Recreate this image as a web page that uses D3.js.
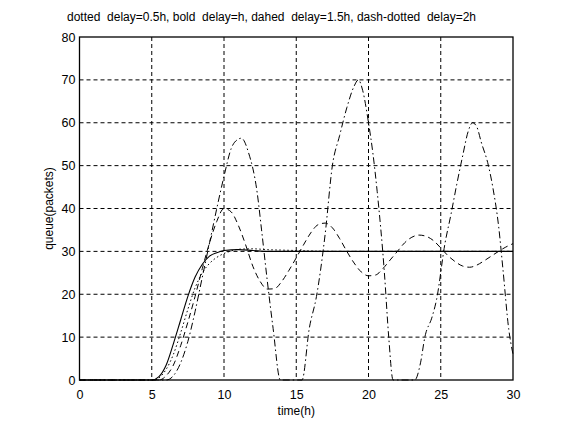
<!DOCTYPE html>
<html><head><meta charset="utf-8">
<script src="https://cdn.jsdelivr.net/npm/d3@7"></script>
<style>body{margin:0;background:#fff}svg{display:block}text{font-family:"Liberation Sans",Arial,sans-serif;fill:#000}</style>
</head><body>
<svg id="c" width="563" height="426"></svg>
<script>
const titleText = "dotted  delay=0.5h, bold  delay=h, dahed  delay=1.5h, dash-dotted  delay=2h";
const xLabel = "time(h)";
const yLabel = "queue(packets)";
const xTicks = [0,5,10,15,20,25,30];
const yTicks = [0,10,20,30,40,50,60,70,80];

// dotted, delay = 0.5h
const dottedT = [0,5.2,5.6,6,6.5,7,7.5,8,8.5,9,9.5,10,10.5,11,12,13,14,15,16,18,30];
const dottedV = [0,0,0.8,2.5,6,11,16.5,21.5,25,27.2,28.6,29.5,30.1,30.5,30.6,30.4,30.3,30.2,30.1,30,30];
// bold (solid), delay = h
const solidT = [0,5,5.5,6,6.5,7,7.5,8,8.5,9,9.5,10,11,12,13,14,30];
const solidV = [0,0,0.8,3.5,8.5,14,19.5,24,27,28.9,29.7,30.2,30.4,30.2,30,30,30];
// dashed, delay = 1.5h
const dashedT = [0,5.5,6,6.5,7,7.5,8,8.5,9,9.5,10,10.5,11,11.5,12,12.5,13,13.5,14,14.5,15,15.5,16,16.5,17,17.5,18,18.5,19,19.5,20,20.5,21,21.5,22,22.5,23,23.5,24,24.5,25,25.5,26,26.5,27,27.5,28,28.5,29,29.5,30];
const dashedV = [0,0,1,3.5,8,13.5,19.5,26,32,37,40,39.2,36,31.5,26.5,23,21.2,21.3,23,25.6,28.5,31.5,34.3,36.2,36.6,35.5,33,30,27.3,25.2,24.3,24.5,26,28,30,32,33.3,33.8,33.5,32.5,30.8,29,27.6,26.6,26.3,26.8,27.8,28.9,30,31,31.8];
// dash-dotted, delay = 2h
const dashDotT = [0,6,6.5,7,7.5,8,8.5,9,9.5,10,10.5,11,11.2,11.7,12.3,12.6,13,13.4,13.9,15.4,15.9,16.4,17,17.5,18,18.5,19,19.3,19.6,20,20.3,20.6,21.1,21.4,21.7,23.2,23.6,23.9,24.4,24.7,25.3,25.7,26.1,26.5,26.9,27.2,27.5,27.8,28.3,28.6,29,29.3,29.7,30];
const dashDotV = [0,0,1,4,9,16,24,32,40,47.5,54,56.2,56.4,53,43.6,35,23,12,0,0,12,19.5,34,50,57,63.5,68.5,70,67.5,60,53,44,25,10,0,0,4,10,14.7,18.6,32,38.5,45.5,52,58,60,59,55.5,50,45,36,26,12,6];

const W = 563, H = 426;
const m = {l:79.5, r:513, t:37, b:380};
const svg = d3.select("#c");
const x = d3.scaleLinear().domain([0,30]).range([m.l, m.r]);
const y = d3.scaleLinear().domain([0,80]).range([m.b, m.t]);

// grid
const g = svg.append("g");
g.selectAll(".gx").data(xTicks.slice(1,-1)).join("line")
  .attr("x1", d=>x(d)).attr("x2", d=>x(d)).attr("y1", m.t).attr("y2", m.b)
  .attr("stroke","#000").attr("stroke-width",1).attr("stroke-dasharray","4,3");
g.selectAll(".gy").data(yTicks.slice(1,-1)).join("line")
  .attr("y1", d=>y(d)).attr("y2", d=>y(d)).attr("x1", m.l).attr("x2", m.r)
  .attr("stroke","#000").attr("stroke-width",1).attr("stroke-dasharray","4,3");

// axes
const xAxis = d3.axisBottom(x).tickValues(xTicks).tickSize(0).tickPadding(10).tickFormat(d3.format("d"));
const yAxis = d3.axisLeft(y).tickValues(yTicks).tickSize(0).tickPadding(4).tickFormat(d3.format("d"));
const ax = svg.append("g").attr("transform",`translate(0,${m.b})`).call(xAxis);
const ay = svg.append("g").attr("transform",`translate(${m.l},0)`).call(yAxis);
[ax, ay].forEach(a => { a.select(".domain").remove(); a.selectAll("text").attr("font-size",12.5).attr("font-family","Liberation Sans, Arial, sans-serif").attr("fill","#000"); });

// frame
svg.append("rect").attr("x", m.l).attr("y", m.t).attr("width", m.r-m.l).attr("height", m.b-m.t)
  .attr("fill","none").attr("stroke","#000").attr("stroke-width",1.3);

// lines
const line = d3.line().x(d=>x(d[0])).y(d=>y(d[1])).curve(d3.curveMonotoneX);
const series = [
  {t:dottedT, v:dottedV, dash:"1.5,2.5", w:1},
  {t:solidT, v:solidV, dash:null, w:1.1},
  {t:dashedT, v:dashedV, dash:"6,4", w:1},
  {t:dashDotT, v:dashDotV, dash:"7,3,1.5,3", w:1}
];
series.forEach(s => {
  svg.append("path").datum(s.t.map((t,i)=>[t, s.v[i]]))
    .attr("d", line).attr("fill","none").attr("stroke","#000")
    .attr("stroke-width", s.w).attr("stroke-dasharray", s.dash);
});

// labels
svg.append("text").attr("x", 67).attr("y", 21).attr("font-size",12)
  .style("white-space","pre").attr("xml:space","preserve").text(titleText);
svg.append("text").attr("x", x(15)).attr("y", 415).attr("text-anchor","middle").attr("font-size",12).text(xLabel);
svg.append("text").attr("transform",`translate(53,${y(40)}) rotate(-90)`).attr("text-anchor","middle").attr("font-size",12).text(yLabel);
</script>
</body></html>
